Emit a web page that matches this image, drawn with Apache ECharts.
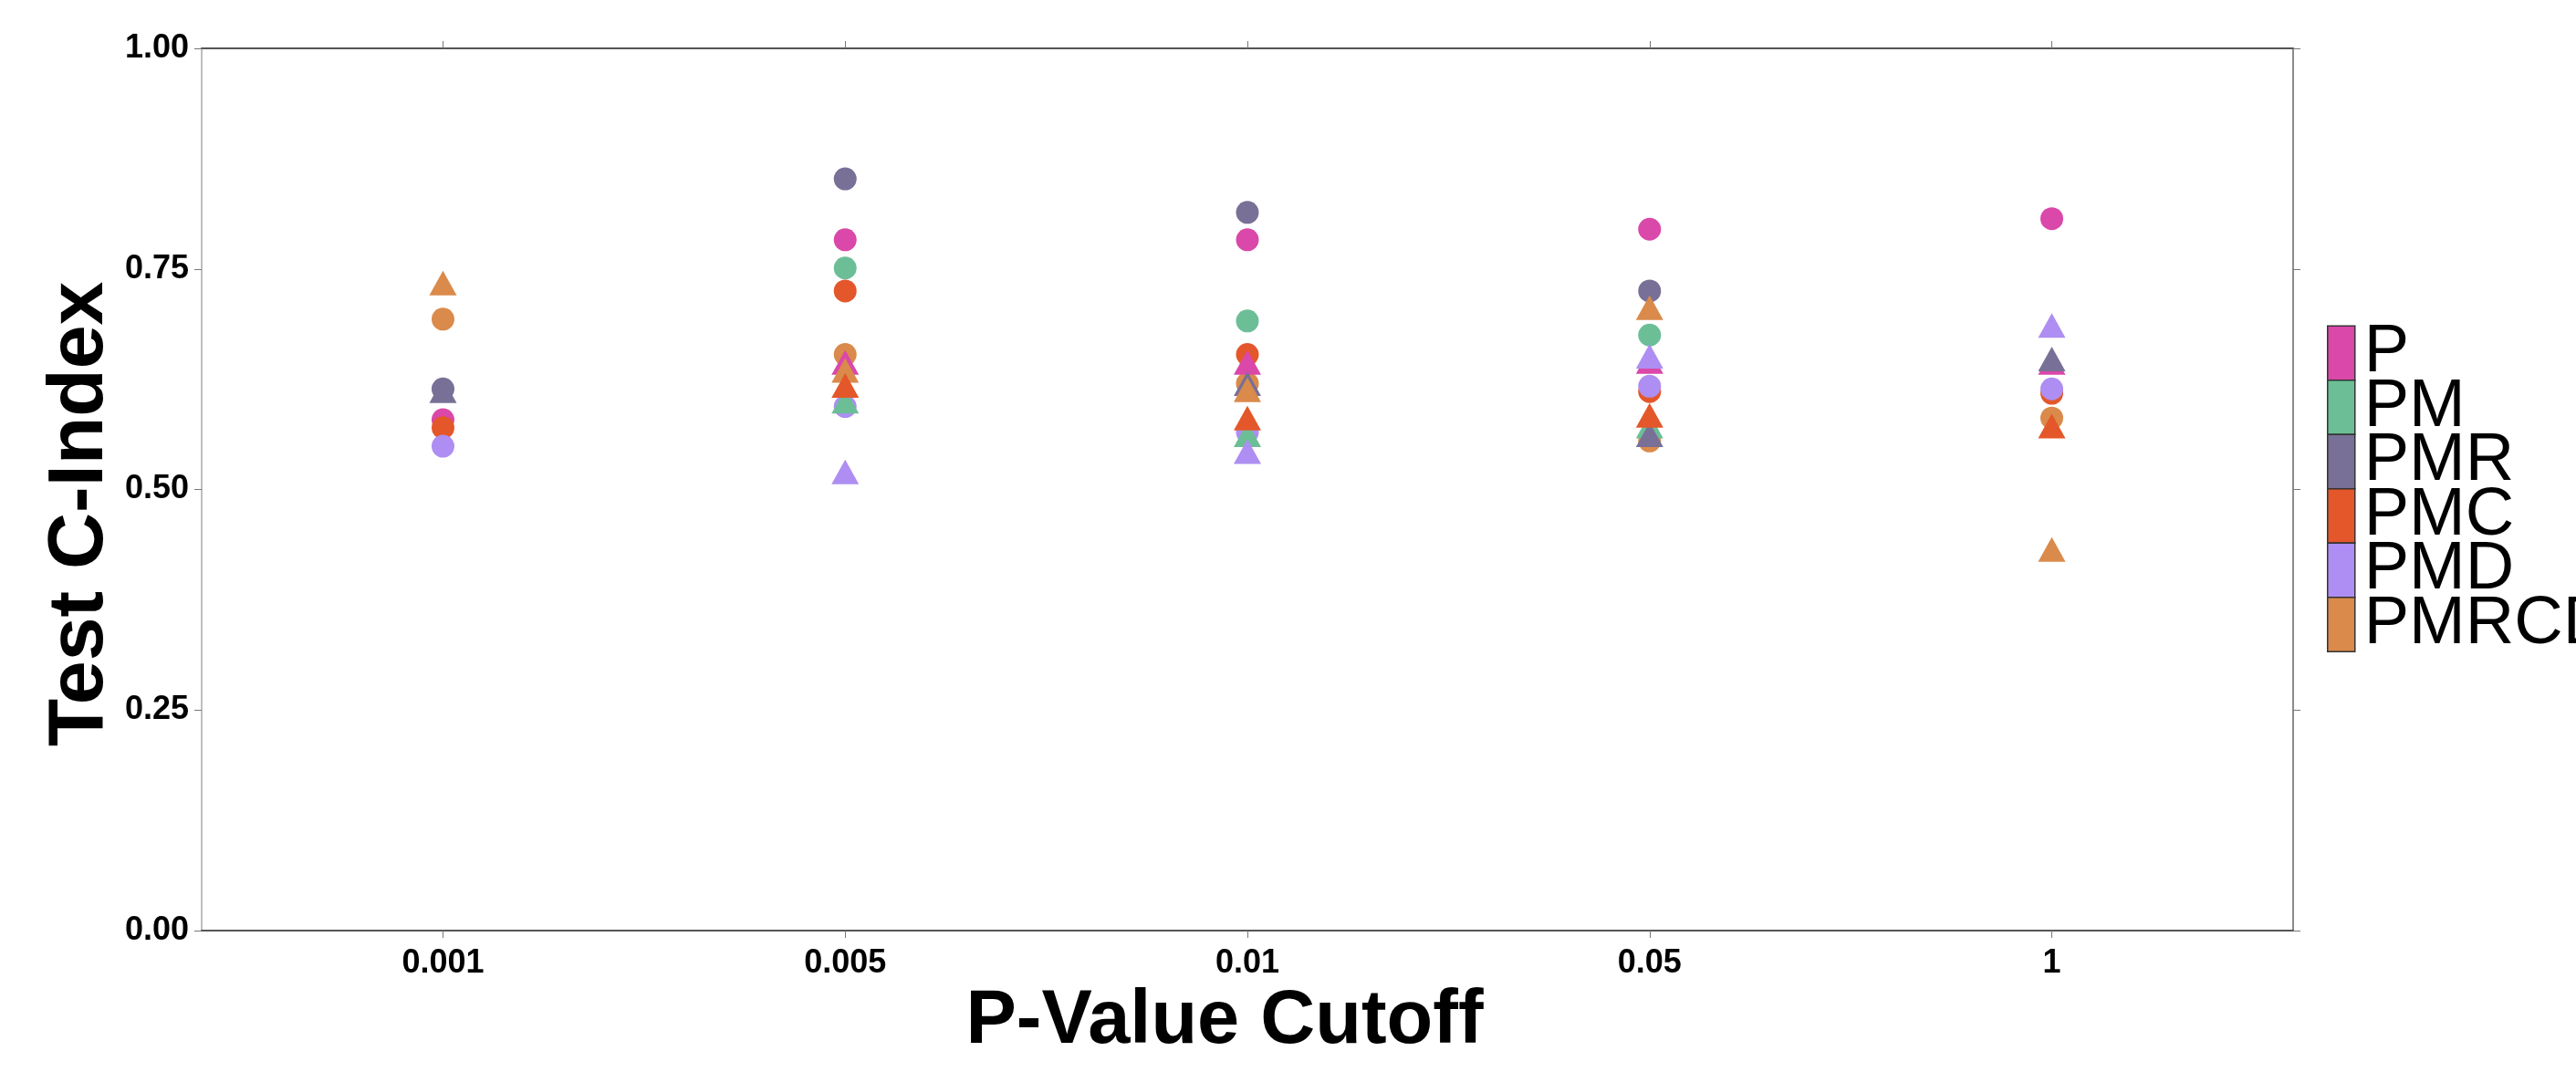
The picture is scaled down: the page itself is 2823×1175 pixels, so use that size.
<!DOCTYPE html>
<html>
<head>
<meta charset="utf-8">
<script src="https://cdn.jsdelivr.net/npm/echarts@6/dist/echarts.min.js"></script>
<style>
  html, body { margin: 0; padding: 0; background: #fff; }
  #chart { width: 2823px; height: 1175px; }
</style>
</head>
<body>
<div id="chart"></div>
<script>
// p-value cutoffs along the x axis
var cutoffs = ['0.001', '0.005', '0.01', '0.05', '1'];
var models = ['P', 'PM', 'PMR', 'PMC', 'PMD', 'PMRCD'];
var colors = ['#DA48A9', '#6CBE97', '#787096', '#E4572A', '#AE8EF2', '#DA8A4A'];

// circles, one value per cutoff (null = not visible)
var circP     = [0.579, 0.783, 0.783, 0.795, 0.807];
var circPM    = [null,  0.751, 0.691, 0.675, null];
var circPMR   = [0.614, 0.852, 0.814, 0.725, null];
var circPMC   = [0.570, 0.725, 0.653, 0.611, 0.609];
var circPMD   = [0.549, 0.594, 0.565, 0.617, 0.614];
var circPMRCD = [0.693, 0.653, 0.620, 0.555, 0.581];

// triangles
var triP     = [null,  0.644, 0.644, 0.645, 0.644];
var triPM    = [null,  0.600, 0.562, 0.572, null];
var triPMR   = [0.612, null,  0.620, 0.562, 0.648];
var triPMC   = [null,  0.618, 0.581, 0.584, 0.572];
var triPMD   = [null,  0.520, 0.543, 0.651, 0.686];
var triPMRCD = [0.734, 0.635, 0.613, 0.706, 0.432];

var circles = { P: circP, PM: circPM, PMR: circPMR, PMC: circPMC, PMD: circPMD, PMRCD: circPMRCD };
var triangles = { P: triP, PM: triPM, PMR: triPMR, PMC: triPMC, PMD: triPMD, PMRCD: triPMRCD };

function toPoints(arr) {
  var out = [];
  arr.forEach(function (v, i) {
    if (v != null) out.push([i + 1, v]);
  });
  return out;
}

var series = [];
// circles first, then triangles (drawing order as in the figure)
models.forEach(function (m, i) {
  series.push({
    name: m, type: 'scatter', symbol: 'circle', symbolSize: 25,
    itemStyle: { color: colors[i], opacity: 1 },
    data: toPoints(circles[m])
  });
});
['PM', 'P', 'PMR', 'PMRCD', 'PMC', 'PMD'].forEach(function (m) {
  var i = models.indexOf(m);
  series.push({
    name: m, type: 'scatter', symbol: 'triangle', symbolSize: [30, 27],
    itemStyle: { color: colors[i], opacity: 1 },
    data: toPoints(triangles[m])
  });
});
series.forEach(function (s) {
  s.emphasis = { disabled: true };
  s.silent = true;
});

var ticks = [1, 2, 3, 4, 5];
var font = 'Liberation Sans';
var chart = echarts.init(document.getElementById('chart'));

chart.setOption({
  animation: false,
  backgroundColor: '#ffffff',
  color: colors,
  grid: {
    left: 221, right: 310, top: 53, bottom: 155,
    containLabel: false, outerBoundsMode: 'none'
  },
  legend: {
    data: models,
    orient: 'vertical',
    left: 2550, top: 350,
    padding: 0,
    // text box is taller than the key, negative gap keeps keys touching
    itemWidth: 30, itemHeight: 59.5, itemGap: -14.5,
    icon: 'rect',
    itemStyle: { borderColor: '#333', borderWidth: 1.5 },
    selectedMode: false,
    textStyle: {
      fontFamily: font, fontSize: 74,
      color: '#000', padding: [0, 0, 0, 5]
    }
  },
  xAxis: [{
    type: 'value', position: 'bottom',
    min: 0.4, max: 5.6,
    name: 'P-Value Cutoff', nameLocation: 'middle', nameGap: 50,
    nameTextStyle: {
      fontFamily: font, fontWeight: 'bold', fontSize: 83, color: '#000',
      padding: [0, 50, 0, 0]
    },
    axisLine: { show: true, onZero: false, lineStyle: { color: '#555', width: 2 } },
    axisTick: { show: true, customValues: ticks, length: 8, lineStyle: { color: '#777', width: 1 } },
    axisLabel: {
      customValues: ticks, margin: 18,
      fontFamily: font, fontWeight: 'bold', fontSize: 36, color: '#000',
      formatter: function (v) { return cutoffs[Math.round(v) - 1] || ''; }
    },
    splitLine: { show: false }
  }, {
    type: 'value', position: 'top',
    min: 0.4, max: 5.6,
    axisLine: { show: true, onZero: false, lineStyle: { color: '#555', width: 2 } },
    axisTick: { show: true, customValues: ticks, length: 8, lineStyle: { color: '#777', width: 1 } },
    axisLabel: { show: false },
    splitLine: { show: false }
  }],
  yAxis: [{
    type: 'value', position: 'left',
    min: 0, max: 1, interval: 0.25,
    name: 'Test C-Index', nameLocation: 'middle', nameGap: 90, nameRotate: 90,
    nameMoveOverlap: false,
    nameTextStyle: {
      fontFamily: font, fontWeight: 'bold', fontSize: 86, color: '#000',
      padding: [0, 54, 0, 0]
    },
    axisLine: { show: true, onZero: false, lineStyle: { color: '#aaa', width: 1.5 } },
    axisTick: { show: true, length: 8, lineStyle: { color: '#777', width: 1 } },
    axisLabel: {
      margin: 14,
      fontFamily: font, fontWeight: 'bold', fontSize: 36, color: '#000',
      formatter: function (v) { return v.toFixed(2); }
    },
    splitLine: { show: false }
  }, {
    type: 'value', position: 'right',
    min: 0, max: 1, interval: 0.25,
    axisLine: { show: true, onZero: false, lineStyle: { color: '#666', width: 1.5 } },
    axisTick: { show: true, length: 8, lineStyle: { color: '#777', width: 1 } },
    axisLabel: { show: false },
    splitLine: { show: false }
  }],
  series: series
});
</script>
</body>
</html>
